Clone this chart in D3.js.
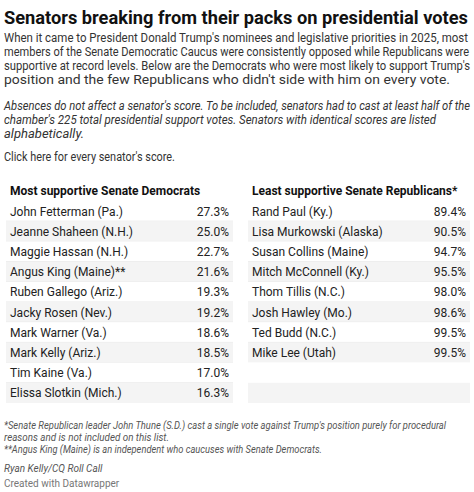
<!DOCTYPE html>
<html><head><meta charset="utf-8">
<script src="https://cdn.jsdelivr.net/npm/d3@7"></script>
<style>body{margin:0;background:#fff;font-family:Roboto,sans-serif}</style>
</head><body><svg id="c" width="474" height="492"></svg>
<script>
const demNames=["John Fetterman (Pa.)","Jeanne Shaheen (N.H.)","Maggie Hassan (N.H.)","Angus King (Maine)**","Ruben Gallego (Ariz.)","Jacky Rosen (Nev.)","Mark Warner (Va.)","Mark Kelly (Ariz.)","Tim Kaine (Va.)","Elissa Slotkin (Mich.)"];
const demValues=[27.3,25.0,22.7,21.6,19.3,19.2,18.6,18.5,17.0,16.3];
const repNames=["Rand Paul (Ky.)","Lisa Murkowski (Alaska)","Susan Collins (Maine)","Mitch McConnell (Ky.)","Thom Tillis (N.C.)","Josh Hawley (Mo.)","Ted Budd (N.C.)","Mike Lee (Utah)"];
const repValues=[89.4,90.5,94.7,95.5,98.0,98.6,99.5,99.5];

const svg=d3.select("#c");
function txt(x,y,s,o={}){const t=svg.append("text").attr("x",x).attr("y",y).text(s)
 .attr("font-size",o.size||12.5).attr("fill",o.fill||"#222").attr("font-weight",o.bold?"bold":null)
 .attr("font-style",o.italic?"italic":null).attr("text-anchor",o.anchor||"start");
 if(o.w){t.attr("textLength",o.w).attr("lengthAdjust","spacingAndGlyphs");}return t;}
txt(4,24,"Senators breaking from their packs on presidential votes",{size:18,bold:true,fill:"#111",w:464});
const p1=["When it came to President Donald Trump's nominees and legislative priorities in 2025, most",
 "members of the Senate Democratic Caucus were consistently opposed while Republicans were",
 "supportive at record levels. Below are the Democrats who were most likely to support Trump's",
 "position and the few Republicans who didn't side with him on every vote."], w1=[464,465,466,446];
p1.forEach((l,i)=>txt(4,42+i*14,l,{size:12,fill:"#333",w:w1[i]}));
const p2=["Absences do not affect a senator's score. To be included, senators had to cast at least half of the",
 "chamber's 225 total presidential support votes. Senators with identical scores are listed",
 "alphabetically."], w2=[466,432,80];
p2.forEach((l,i)=>txt(4,110+i*14,l,{size:12,fill:"#333",italic:true,w:w2[i]}));
txt(4,161,"Click here for every senator's score.",{size:12,fill:"#333",w:171});

const y=d3.scaleBand().domain(d3.range(10)).range([201,403]);
function table(x0,x1,title,names,vals){
 txt(x0+4,195,title,{size:12,bold:true,fill:"#111"});
 const g=svg.append("g");
 const rows=g.selectAll("g").data(d3.range(10)).join("g");
 rows.append("rect").attr("x",x0).attr("width",x1-x0).attr("y",i=>y(i)).attr("height",y.bandwidth())
  .attr("fill",i=>i%2?"#f4f4f4":"#fff");
 rows.append("line").attr("x1",x0).attr("x2",x1).attr("y1",i=>y(i)+y.bandwidth()).attr("y2",i=>y(i)+y.bandwidth())
  .attr("stroke",i=>i<names.length-1?"#e8e8e8":"none");
 rows.filter(i=>i<names.length).append("text").attr("x",x0+4).attr("y",i=>y(i)+y.bandwidth()/2+4.5)
  .attr("font-size",12).attr("fill","#222").text(i=>names[i]);
 rows.filter(i=>i<names.length).append("text").attr("x",x1-4).attr("y",i=>y(i)+y.bandwidth()/2+4.5)
  .attr("text-anchor","end").attr("font-size",12).attr("fill","#222").text(i=>d3.format(".1f")(vals[i])+"%");
}
table(6,233,"Most supportive Senate Democrats",demNames,demValues);
table(248,470,"Least supportive Senate Republicans*",repNames,repValues);
const fn=[" *Senate Republican leader John Thune (S.D.) cast a single vote against Trump's position purely for procedural",
 "reasons and is not included on this list.",
 "**Angus King (Maine) is an independent who caucuses with Senate Democrats."], wf=[442,165,318];
fn.forEach((l,i)=>txt(4,429+i*12,l,{size:10,italic:true,fill:"#555",w:wf[i]}));
txt(4,472,"Ryan Kelly/CQ Roll Call",{size:10,italic:true,fill:"#555"});
txt(4,487,"Created with Datawrapper",{size:10,fill:"#777"});
</script></body></html>
